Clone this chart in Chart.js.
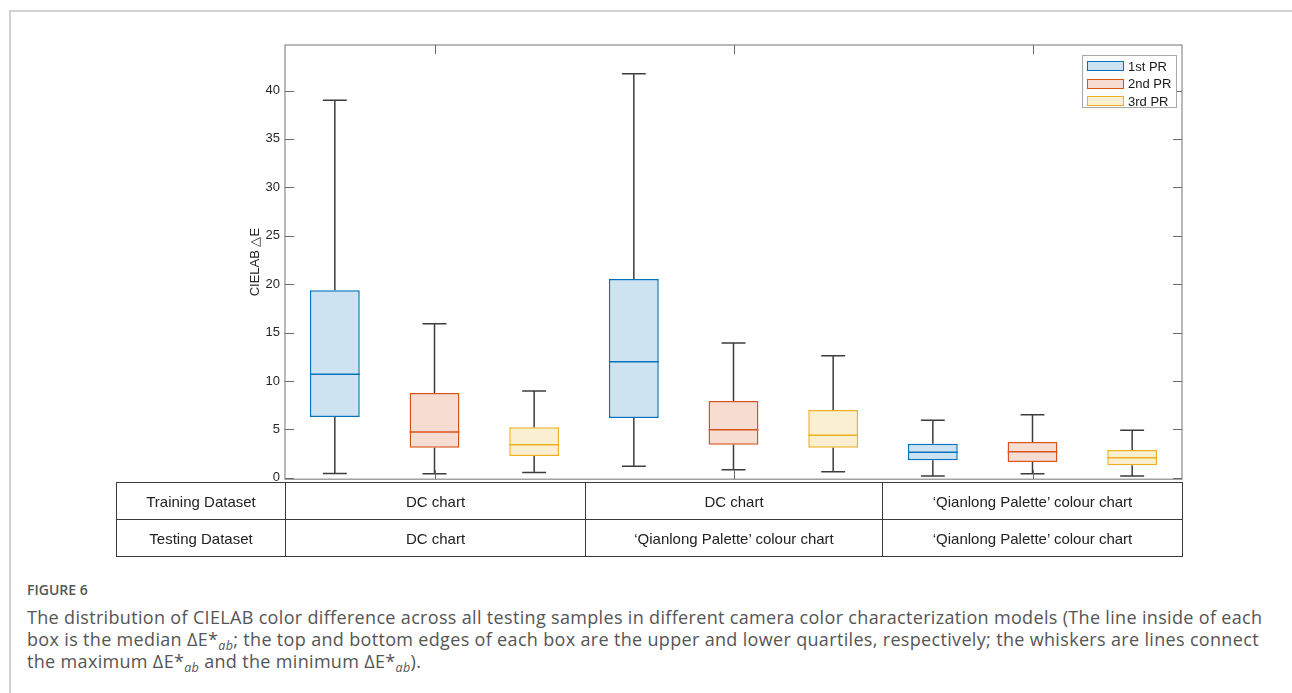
<!DOCTYPE html>
<html>
<head>
<meta charset="utf-8">
<script src="https://cdn.jsdelivr.net/npm/chart.js@4/dist/chart.umd.min.js"></script>
<style>
  html, body { margin: 0; padding: 0; background: #fff; }
  body { width: 1292px; height: 693px; position: relative; overflow: hidden; font-family: "Liberation Sans", Arial, sans-serif; }
  #frame { position: absolute; left: 9px; top: 10px; width: 1400px; height: 800px; border-left: 2px solid #d2d2d2; border-top: 2px solid #d2d2d2; }
  #chartWrap { position: absolute; left: 0; top: 0; width: 1292px; height: 492px; }
  #legend { position: absolute; left: 1082px; top: 55px; width: 95px; height: 53px; border: 1px solid #a8a8a8; background: #fff; box-sizing: border-box; }
  .lg-row { position: absolute; left: 4px; height: 11px; display: flex; align-items: center; }
  .lg-sw { width: 35px; height: 8px; box-sizing: content-box; }
  .lg-tx { margin-left: 4px; font-size: 13px; color: #1a1a1a; line-height: 13px; white-space: nowrap; }
  #tbl { position: absolute; left: 116px; top: 482px; border-collapse: collapse; table-layout: fixed; }
  #tbl td { border: 1px solid #3a3a3a; height: 36px; padding: 0; text-align: center; font-size: 15px; color: #222; white-space: nowrap; }
  #figlabel { position: absolute; left: 27px; top: 580px; font-family: "Open Sans", sans-serif; font-size: 14px; font-weight: 600; color: #555; }
  #caption { position: absolute; left: 27px; top: 606px; font-family: "Open Sans", sans-serif; font-size: 18px; letter-spacing: 0.33px; line-height: 22px; color: #555; white-space: nowrap; }
  #caption sub { font-size: 12.5px; vertical-align: -4px; line-height: 0; font-style: italic; }
</style>
</head>
<body>
<div id="frame"></div>
<div id="chartWrap"><canvas id="c" width="1292" height="492"></canvas></div>
<div id="legend"></div>
<table id="tbl"></table>
<div id="figlabel">FIGURE 6</div>
<div id="caption">The distribution of CIELAB color difference across all testing samples in different camera color characterization models (The line inside of each<br>box is the median ΔE*<sub>ab</sub>; the top and bottom edges of each box are the upper and lower quartiles, respectively; the whiskers are lines connect<br>the maximum ΔE*<sub>ab</sub> and the minimum ΔE*<sub>ab</sub>).</div>
<script>
// ---------- data ----------
const groups = ['DC / DC', 'DC / Qianlong', 'Qianlong / Qianlong'];
const trainingDataset = ['DC chart', 'DC chart', '‘Qianlong Palette’ colour chart'];
const testingDataset = ['DC chart', '‘Qianlong Palette’ colour chart', '‘Qianlong Palette’ colour chart'];
const seriesNames = ['1st PR', '2nd PR', '3rd PR'];
const yTickStep = 5;

// 1st PR
const pr1Min = [0.45, 1.2, 0.17];
const pr1Q1  = [6.28, 6.18, 1.80];
const pr1Med = [10.69, 11.97, 2.63];
const pr1Q3  = [19.38, 20.52, 3.52];
const pr1Max = [39.0, 41.72, 5.93];
// 2nd PR
const pr2Min = [0.41, 0.83, 0.41];
const pr2Q1  = [3.10, 3.41, 1.62];
const pr2Med = [4.73, 4.97, 2.69];
const pr2Q3  = [8.76, 7.93, 3.69];
const pr2Max = [15.9, 13.93, 6.52];
// 3rd PR
const pr3Min = [0.55, 0.62, 0.17];
const pr3Q1  = [2.24, 3.10, 1.28];
const pr3Med = [3.41, 4.38, 2.07];
const pr3Q3  = [5.21, 7.00, 2.87];
const pr3Max = [8.97, 12.59, 4.90];

// ---------- styles ----------
const edgeColors = ['rgb(0,114,189)', 'rgb(217,83,25)', 'rgb(237,177,32)'];
const fillColors = ['rgb(205,227,242)', 'rgb(247,221,209)', 'rgb(251,239,210)'];

const seriesStats = [
  {min: pr1Min, q1: pr1Q1, med: pr1Med, q3: pr1Q3, max: pr1Max},
  {min: pr2Min, q1: pr2Q1, med: pr2Med, q3: pr2Q3, max: pr2Max},
  {min: pr3Min, q1: pr3Q1, med: pr3Med, q3: pr3Q3, max: pr3Max}
];

// ---------- legend (HTML) ----------
const legendEl = document.getElementById('legend');
seriesNames.forEach((n, i) => {
  const row = document.createElement('div');
  row.className = 'lg-row';
  row.style.top = (4.5 + i * 17.5) + 'px';
  row.innerHTML = '<div class="lg-sw" style="background:' + fillColors[i] + ';border:1.5px solid ' + edgeColors[i] + '"></div><div class="lg-tx">' + n + '</div>';
  legendEl.appendChild(row);
});

// ---------- table (HTML) ----------
const tbl = document.getElementById('tbl');
const colW = [169, 300, 297, 300];
const cg = document.createElement('colgroup');
colW.forEach(w => { const c = document.createElement('col'); c.style.width = w + 'px'; cg.appendChild(c); });
tbl.appendChild(cg);
[['Training Dataset', trainingDataset], ['Testing Dataset', testingDataset]].forEach(([h, arr]) => {
  const tr = document.createElement('tr');
  [h].concat(arr).forEach(t => { const td = document.createElement('td'); td.textContent = t; tr.appendChild(td); });
  tbl.appendChild(tr);
});

// ---------- plugins ----------
const boxPlugin = {
  id: 'boxWhiskers',
  afterDatasetsDraw(chart) {
    const ctx = chart.ctx;
    const y = chart.scales.y;
    chart.data.datasets.forEach((ds, di) => {
      const meta = chart.getDatasetMeta(di);
      const st = seriesStats[di];
      meta.data.forEach((bar, j) => {
        const x = bar.x, w = bar.width;
        const cap = w * 0.48;
        const pMin = y.getPixelForValue(st.min[j]);
        const pMax = y.getPixelForValue(st.max[j]);
        const pQ1 = y.getPixelForValue(st.q1[j]);
        const pQ3 = y.getPixelForValue(st.q3[j]);
        const pMed = y.getPixelForValue(st.med[j]);
        ctx.save();
        ctx.strokeStyle = '#3d3d3d';
        ctx.lineWidth = 1.5;
        ctx.beginPath();
        ctx.moveTo(x, pQ3); ctx.lineTo(x, pMax);
        ctx.moveTo(x - cap / 2, pMax); ctx.lineTo(x + cap / 2, pMax);
        ctx.moveTo(x, pQ1); ctx.lineTo(x, pMin);
        ctx.moveTo(x - cap / 2, pMin); ctx.lineTo(x + cap / 2, pMin);
        ctx.stroke();
        ctx.strokeStyle = edgeColors[di];
        ctx.beginPath();
        ctx.moveTo(x - w / 2, pMed); ctx.lineTo(x + w / 2, pMed);
        ctx.stroke();
        ctx.restore();
      });
    });
  }
};

const framePlugin = {
  id: 'axesFrame',
  afterDraw(chart) {
    const ctx = chart.ctx;
    const a = chart.chartArea;
    const y = chart.scales.y, x = chart.scales.x;
    ctx.save();
    ctx.strokeStyle = '#8a8a8a';
    ctx.lineWidth = 1.2;
    ctx.strokeRect(a.left, a.top, a.right - a.left, a.bottom - a.top);
    ctx.strokeStyle = '#6a6a6a';
    ctx.lineWidth = 1;
    ctx.beginPath();
    y.ticks.forEach(t => {
      const py = Math.round(y.getPixelForValue(t.value)) + 0.5;
      ctx.moveTo(a.left, py); ctx.lineTo(a.left + 9, py);
      ctx.moveTo(a.right, py); ctx.lineTo(a.right - 9, py);
    });
    x.ticks.forEach((t, i) => {
      const px = Math.round(x.getPixelForTick(i)) + 0.5;
      ctx.moveTo(px, a.bottom); ctx.lineTo(px, a.bottom - 9);
      ctx.moveTo(px, a.top); ctx.lineTo(px, a.top + 9);
    });
    ctx.stroke();
    ctx.restore();
  }
};

// ---------- chart ----------
new Chart(document.getElementById('c'), {
  type: 'bar',
  data: {
    labels: groups,
    datasets: seriesNames.map((n, i) => ({
      label: n,
      data: groups.map((g, j) => [seriesStats[i].q1[j], seriesStats[i].q3[j]]),
      backgroundColor: fillColors[i],
      borderColor: edgeColors[i],
      borderWidth: 1.5,
      borderSkipped: false,
      categoryPercentage: 1,
      barPercentage: 0.5
    }))
  },
  options: {
    responsive: false,
    animation: false,
    layout: { padding: { left: 185, right: 110, top: 45, bottom: 12 } },
    plugins: { legend: { display: false }, tooltip: { enabled: false } },
    scales: {
      x: {
        grid: { display: false, drawTicks: false },
        border: { display: false },
        ticks: { display: false },
        afterFit: s => { s.height = 0; }
      },
      y: {
        min: -0.15,
        max: 44.7,
        grid: { display: false, drawTicks: false },
        border: { display: false },
        ticks: { stepSize: yTickStep, includeBounds: false, padding: 5, color: '#262626',
                 font: { family: '"Liberation Sans", Arial, sans-serif', size: 13 } },
        title: { display: true, text: 'CIELAB △E', color: '#262626', padding: { top: 63, bottom: 0 },
                 font: { family: '"Liberation Sans", Arial, sans-serif', size: 13 } },
        afterFit: s => { s.width = 100; }
      }
    }
  },
  plugins: [boxPlugin, framePlugin]
});
</script>
</body>
</html>
